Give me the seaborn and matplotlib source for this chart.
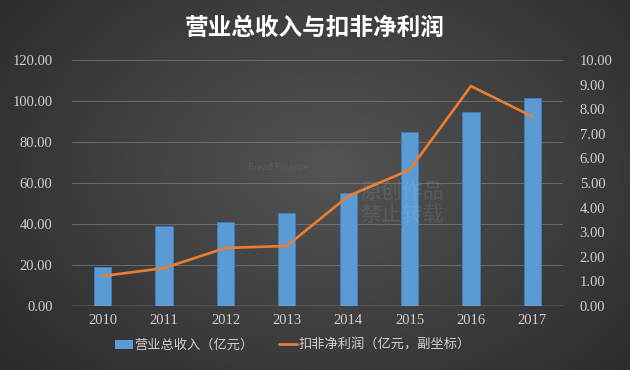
import numpy as np
import pandas as pd
import matplotlib
matplotlib.use("Agg")
import matplotlib.pyplot as plt
import seaborn as sns
from matplotlib.lines import Line2D
from matplotlib.patches import Patch

years = ["2010", "2011", "2012", "2013", "2014", "2015", "2016", "2017"]
revenue = [19.0, 39.0, 41.0, 45.4, 55.0, 85.0, 94.7, 101.6]
net_profit = [1.22, 1.54, 2.36, 2.44, 4.47, 5.53, 8.94, 7.70]
left_ticks = [0, 20, 40, 60, 80, 100, 120]
right_ticks = [0, 1, 2, 3, 4, 5, 6, 7, 8, 9, 10]
title = "营业总收入与扣非净利润"
bar_label = "营业总收入（亿元）"
line_label = "扣非净利润（亿元，副坐标）"

sns.set_theme(style="dark")
plt.rcParams["font.family"] = ["Noto Sans CJK SC", "DejaVu Sans"]
plt.rcParams["axes.unicode_minus"] = False

fig = plt.figure(figsize=(6.3, 3.7), dpi=100)

# background radial gradient
bg = fig.add_axes([0, 0, 1, 1], zorder=-10)
yy, xx = np.mgrid[0:370, 0:630]
r = np.sqrt(((xx - 330) / 420.0) ** 2 + ((yy - 170) / 300.0) ** 2)
val = np.clip(0.33 - 0.16 * r, 0.17, 0.33)
bg.imshow(np.dstack([val, val, val]), aspect="auto", extent=[0, 1, 0, 1])
bg.set_axis_off()

ax = fig.add_axes([72 / 630, 1 - 306 / 370, (563 - 72) / 630, 246 / 370])
ax.set_facecolor("none")
df = pd.DataFrame({"year": years, "revenue": revenue, "profit": net_profit})

sns.barplot(data=df, x="year", y="revenue", ax=ax, color="#5b9bd5",
            width=0.28, saturation=1, edgecolor="#3f7fc0", linewidth=0.6, zorder=3)
ax.set_ylim(0, 120)
ax.set_yticks(left_ticks)
ax.set_yticklabels([f"{t:.2f}" for t in left_ticks])
ax.set_xlim(-0.5, 7.5)
ax.grid(axis="y", color="#8a8a8a", linewidth=0.7, alpha=0.6, zorder=0)
ax.grid(axis="x", visible=False)
for s in ax.spines.values():
    s.set_visible(False)
ax.axhline(0, color="#b0b0b0", linewidth=1.0, zorder=4)
ax.set_xlabel("")
ax.set_ylabel("")
ax.tick_params(axis="both", colors="#d0d0d0", labelsize=10.5, length=0, pad=14)
ax.tick_params(axis="x", pad=6)
for lab in ax.get_xticklabels() + ax.get_yticklabels():
    lab.set_fontfamily(["Liberation Serif", "DejaVu Serif"])

ax2 = ax.twinx()
sns.lineplot(data=df, x="year", y="profit", ax=ax2, color="#ed7d31",
             linewidth=1.9, zorder=5, sort=False)
ax2.set_ylim(0, 10)
ax2.set_yticks(right_ticks)
ax2.set_yticklabels([f"{t:.2f}" for t in right_ticks])
ax2.set_xlim(-0.5, 7.5)
ax2.set_ylabel("")
ax2.grid(False)
for s in ax2.spines.values():
    s.set_visible(False)
ax2.tick_params(axis="y", colors="#d0d0d0", labelsize=10.5, length=0, pad=12)
for lab in ax2.get_yticklabels():
    lab.set_fontfamily(["Liberation Serif", "DejaVu Serif"])

# watermark
fig.text(0.572, 0.45, "原创作品\n禁止转载", color="white", alpha=0.09, fontsize=15,
         ha="left", va="center", linespacing=1.05)
fig.text(0.394, 0.546, "Bread Finance", color="white", alpha=0.09, fontsize=6.5,
         ha="left", va="center")

fig.text(0.5, 0.925, title, color="white", fontsize=17, fontweight="bold",
         ha="center", va="center")

handles = [Patch(facecolor="#5b9bd5", edgecolor="none", label=bar_label),
           Line2D([0], [0], color="#ed7d31", linewidth=2.0, label=line_label)]
leg = fig.legend(handles=handles, loc="center", bbox_to_anchor=(0.465, 0.067), ncol=2,
                 frameon=False, fontsize=9.5, handlelength=1.4, handletextpad=0.1,
                 columnspacing=1.9)
for t in leg.get_texts():
    t.set_color("#d0d0d0")

fig.savefig("out.png", dpi=100)
